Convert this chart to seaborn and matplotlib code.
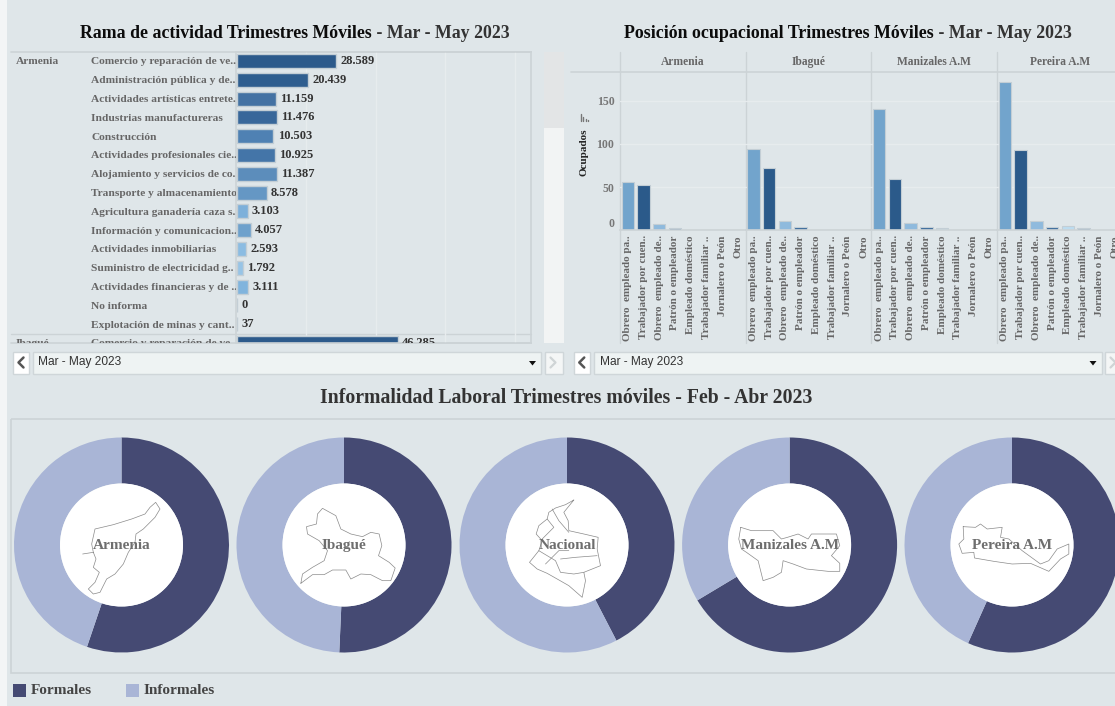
import matplotlib
matplotlib.use("Agg")
import matplotlib.pyplot as plt
import pandas as pd
import seaborn as sns
from matplotlib.patches import Circle, Polygon, Rectangle

ciudades_rama = ["Armenia"] * 15 + ["Ibagué"]
ramas = ["Comercio y reparación de ve..", "Administración pública y de..", "Actividades artísticas entrete..",
         "Industrias manufactureras", "Construcción", "Actividades profesionales cie..",
         "Alojamiento y servicios de co..", "Transporte y almacenamiento", "Agricultura ganadería caza s..",
         "Información y comunicacion..", "Actividades inmobiliarias", "Suministro de electricidad g..",
         "Actividades financieras y de ..", "No informa", "Explotación de minas y cant..",
         "Comercio y reparación de ve.."]
ocupados_rama = [28589, 20439, 11159, 11476, 10503, 10925, 11387, 8578, 3103, 4057, 2593, 1792, 3111, 0, 37, 46285]

ciudades_pos = ["Armenia", "Ibagué", "Manizales A.M", "Pereira A.M"]
posiciones = ["Obrero  empleado pa..", "Trabajador por cuen..", "Obrero  empleado de..", "Patrón o empleador",
              "Empleado doméstico", "Trabajador familiar ..", "Jornalero o Peón", "Otro"]
armenia_pos = [56, 53, 7, 3, 0, 0, 0, 0]
ibague_pos = [94, 72, 11, 3.5, 0.5, 0.3, 0, 0]
manizales_pos = [140, 59, 9, 4, 3, 0.5, 0, 0]
pereira_pos = [172, 93, 11, 4, 5, 3, 0, 0]

ciudades_inf = ["Armenia", "Ibagué", "Nacional", "Manizales A.M", "Pereira A.M"]
formales = [55.2, 50.7, 42.4, 66.4, 56.7]
informales = [44.8, 49.3, 57.6, 33.6, 43.3]

# colores
fondo = "#dfe6e9"
linea = "#ccd3d6"
rejilla = "#e7ecee"
colores_rama = ["#2c5a8b", "#2f5e8f", "#4472a3", "#38679a", "#4f81b3", "#4475a8", "#5c8dbb", "#6597c4",
                "#7db0da", "#6ea1cc", "#8bbce2", "#97c4e6", "#80b4dd", "#9cc8e8", "#9cc8e8", "#2c5a8b"]
colores_pos = ["#72a4cc", "#2b5a8a", "#8fbadd", "#3c6c9c", "#bcdcf0", "#4d7da8", "#8fbadd", "#8fbadd"]
color_formal = "#454a73"
color_informal = "#a9b5d6"

# siluetas decorativas (pixeles de la ampliacion, centro en 186,186)
silueta_armenia = [(68, 210), (100, 205), (95, 180), (105, 135), (160, 122), (215, 105), (255, 90), (270, 70),
                   (287, 55), (300, 75), (285, 100), (250, 135), (228, 150), (225, 175), (205, 205), (190, 240),
                   (165, 270), (140, 285), (120, 325), (100, 330), (85, 315), (105, 295), (118, 265), (100, 250),
                   (108, 225), (100, 205)]
silueta_ibague = [(55, 298), (60, 270), (90, 250), (125, 230), (135, 200), (110, 170), (75, 150), (72, 128),
                  (102, 120), (105, 90), (120, 73), (160, 95), (175, 135), (205, 150), (240, 158), (265, 145),
                  (290, 150), (298, 185), (288, 215), (320, 235), (338, 252), (325, 290), (300, 290), (265, 272),
                  (235, 270), (205, 285), (190, 258), (150, 258), (125, 272), (90, 272), (55, 298)]
silueta_nacional = [(205, 48), (180, 62), (150, 72), (130, 85), (125, 105), (100, 125), (92, 150), (110, 170),
                    (100, 200), (72, 235), (95, 255), (125, 268), (155, 285), (190, 305), (230, 340), (240, 290),
                    (235, 265), (285, 245), (275, 195), (278, 160), (235, 150), (190, 140), (188, 110), (175, 85),
                    (205, 48)]
lineas_nacional = [[(125, 105), (145, 130), (110, 165)], [(140, 75), (160, 110), (190, 145)],
                   [(100, 200), (150, 230), (165, 265), (205, 270), (235, 265)],
                   [(165, 225), (210, 220), (275, 215)], [(120, 240), (160, 200), (190, 200)]]
silueta_manizales = [(38, 130), (32, 165), (40, 195), (55, 205), (90, 230), (105, 290), (135, 280), (160, 265),
                     (165, 230), (195, 240), (235, 255), (300, 262), (335, 262), (335, 238), (310, 215),
                     (335, 185), (325, 150), (250, 150), (240, 165), (210, 150), (178, 160), (160, 165),
                     (135, 140), (100, 140), (70, 140), (38, 130)]
silueta_pereira = [(38, 128), (40, 165), (25, 180), (35, 208), (70, 205), (72, 222), (130, 232), (185, 240),
                   (240, 238), (295, 262), (330, 225), (355, 210), (355, 180), (320, 195), (295, 230), (270, 240),
                   (215, 200), (175, 165), (150, 160), (155, 130), (110, 135), (90, 120), (75, 130), (38, 128)]
siluetas = [[silueta_armenia], [silueta_ibague], [silueta_nacional] + lineas_nacional,
            [silueta_manizales], [silueta_pereira]]

sns.set_theme(style="white")
plt.rcParams["font.family"] = ["Liberation Serif", "DejaVu Serif"]
plt.rcParams["font.weight"] = "bold"

W, H = 1115, 706
fig = plt.figure(figsize=(W / 100, H / 100), dpi=100, facecolor=fondo)


def ax_px(x0, y0, x1, y1, zorder=1):
    ax = fig.add_axes([x0 / W, 1 - y1 / H, (x1 - x0) / W, (y1 - y0) / H], zorder=zorder)
    ax.patch.set_alpha(0)
    return ax


def lienzo(zorder):
    ax = ax_px(0, 0, W, H, zorder)
    ax.set_xlim(0, W)
    ax.set_ylim(H, 0)
    ax.axis("off")
    return ax


fondo_ax = lienzo(0)
arriba = lienzo(10)

fondo_ax.add_patch(Rectangle((0, 0), 7, H, fc="#f3f5f6", ec="none"))

# titulos
t1 = arriba.text(80, 33, "Rama de actividad Trimestres Móviles", va="center", fontsize=12.8, color="#0c0c0c")
arriba.annotate(" - Mar - May 2023", xy=(1, 0.5), xycoords=t1, va="center", fontsize=12.8, color="#333333")
t2 = arriba.text(624, 33, "Posición ocupacional Trimestres Móviles", va="center", fontsize=12.85, color="#0c0c0c")
arriba.annotate(" - Mar - May 2023", xy=(1, 0.5), xycoords=t2, va="center", fontsize=12.85, color="#333333")
arriba.text(566.5, 398, "Informalidad Laboral Trimestres móviles - Feb - Abr 2023", ha="center", va="center",
            fontsize=14.2, color="#333333")

# panel izquierdo: barras horizontales
df_rama = pd.DataFrame({"ciudad": ciudades_rama, "rama": ramas, "ocupados": ocupados_rama})
df_rama["fila"] = df_rama["ciudad"] + "|" + df_rama["rama"]

ax_r = ax_px(236, 52, 531, 343, 2)
sns.barplot(data=df_rama, x="ocupados", y="fila", hue="fila", palette=colores_rama, saturation=1, orient="h",
            width=0.74, edgecolor="#c3ced5", linewidth=1, legend=False, ax=ax_r)
ax_r.set_xlim(-300, 84700)
ax_r.set_ylim(15.0, -0.48)
ax_r.set_xlabel("")
ax_r.set_ylabel("")
ax_r.set_yticks([])
ax_r.set_xticks([20000, 40000, 60000, 80000])
ax_r.set_xticklabels([])
ax_r.tick_params(length=0)
ax_r.grid(axis="x", color=rejilla, lw=1)
ax_r.set_axisbelow(True)
for s in ax_r.spines.values():
    s.set_color(linea)
    s.set_linewidth(1.2)
for cont, v in zip(ax_r.containers, ocupados_rama):
    ax_r.bar_label(cont, labels=[f"{v:,}".replace(",", ".")], padding=3, fontsize=9, color="#333333", clip_on=True)

ax_l = ax_px(11, 52, 236, 343, 2)
ax_l.set_xlim(11, 236)
ax_l.set_ylim(15.0, -0.48)
ax_l.axis("off")
for i, (c, r) in enumerate(zip(ciudades_rama, ramas)):
    ax_l.text(91, i + 0.05, r, va="center", fontsize=8.2, color="#666666", clip_on=True)
    if i == 0 or c != ciudades_rama[i - 1]:
        ax_l.text(16, i + 0.05, c, va="center", fontsize=8.2, color="#666666", clip_on=True)
fondo_ax.plot([11, 531], [52, 52], color=linea, lw=1.2)
fondo_ax.plot([11, 531], [343, 343], color=linea, lw=1.2)
fondo_ax.plot([11, 531], [333.5, 333.5], color=linea, lw=1)

# barra de desplazamiento
fondo_ax.add_patch(Rectangle((544, 52), 19.5, 291, fc="#f2f4f4", ec="none"))
fondo_ax.add_patch(Rectangle((544, 52), 19.5, 75.5, fc="#e3e5e6", ec="none"))

# panel derecho: facetas por ciudad
df_pos = pd.DataFrame({
    "ciudad": [c for c in ciudades_pos for _ in posiciones],
    "posicion": posiciones * 4,
    "ocupados": armenia_pos + ibague_pos + manizales_pos + pereira_pos,
})
ancho_faceta = 125.7
for k, ciudad in enumerate(ciudades_pos):
    x0 = 620 + k * ancho_faceta
    ax = ax_px(x0, 71.7, x0 + ancho_faceta, 230.3, 2)
    sub = df_pos[df_pos["ciudad"] == ciudad]
    sns.barplot(data=sub, x="posicion", y="ocupados", hue="posicion", order=posiciones, hue_order=posiciones,
                palette=colores_pos, saturation=1, width=0.79, edgecolor="#c3ced5", linewidth=0.8, legend=False, ax=ax)
    ax.set_xlim(-0.5, 7.5)
    ax.set_ylim(0, 183.6)
    ax.set_xlabel("")
    ax.set_ylabel("")
    ax.set_xticks([])
    ax.set_yticks([0, 50, 100, 150])
    ax.grid(axis="y", color=rejilla, lw=1)
    ax.set_axisbelow(True)
    ax.tick_params(length=0, pad=4, labelsize=8.5, labelcolor="#777777")
    for s in ["top", "right", "left"]:
        ax.spines[s].set_visible(False)
    ax.spines["bottom"].set_color(linea)
    ax.spines["bottom"].set_linewidth(1.2)
    if k == 0:
        etiquetas = ax.get_yticklabels()
        etiquetas[0].set_va("bottom")
    else:
        ax.set_yticklabels([])
    ax.set_title(ciudad, fontsize=8.3, color="#666666", pad=5, fontweight="bold")

    banda = ax_px(x0, 230.3, x0 + ancho_faceta, 343, 2)
    banda.set_xlim(-0.5, 7.5)
    banda.set_ylim(112.7, 0)
    banda.axis("off")
    for i, p in enumerate(posiciones):
        banda.text(i, 5, p, rotation=90, ha="center", va="top", fontsize=8, color="#666666", clip_on=True)
    fondo_ax.plot([x0, x0], [52, 343], color=linea, lw=1)

fondo_ax.plot([571, W], [71.7, 71.7], color=linea, lw=1.2)
arriba.text(584, 152, "Ocupados", rotation=90, ha="center", va="center", fontsize=8, color="#222222")
for xb, y_alto in zip([580.5, 583, 585.5, 588], [114, 117, 119, 120]):
    arriba.plot([xb, xb], [y_alto, 121], color="#777777", lw=1)

# selectores de periodo
for x_prev, x_caja, x_fin, x_sig in [(13, 32.5, 541, 545), (573.5, 593.5, 1101.5, 1105)]:
    for xa, xb, color in [(x_prev, x_caja - 3.5, "white"), (x_caja, x_fin, "#eef3f3"), (x_sig, x_sig + 18, "#f4f6f6")]:
        arriba.add_patch(Rectangle((xa, 352), xb - xa, 21.5, fc=color, ec="#cfd6d9", lw=1))
    xc = (x_prev + x_caja - 3.5) / 2
    arriba.plot([xc + 2.5, xc - 2.5, xc + 2.5], [357.5, 362.5, 367.5], color="#555555", lw=1.8)
    xs = x_sig + 8
    arriba.plot([xs - 2.5, xs + 2.5, xs - 2.5], [357.5, 362.5, 367.5], color="#cfd4d6", lw=1.6)
    arriba.text(x_caja + 6, 361.5, "Mar - May 2023", va="center", fontsize=8.6, color="#333333",
                family="Liberation Sans", fontweight="normal")
    arriba.add_patch(Polygon([(x_fin - 12, 361), (x_fin - 5, 361), (x_fin - 8.5, 365.5)], fc="#111111", ec="none"))

# donas de informalidad
fondo_ax.add_patch(Rectangle((11, 418.5), W, 254, fc="none", ec=linea, lw=1.2))
centros_x = [121.5, 344, 567, 789.6, 1012]
for cx, ciudad, f, i, sil in zip(centros_x, ciudades_inf, formales, informales, siluetas):
    ax = ax_px(cx - 107.5, 545 - 107.5, cx + 107.5, 545 + 107.5, 2)
    ax.pie([f, i], colors=[color_formal, color_informal], startangle=90, counterclock=False, radius=1,
           wedgeprops={"width": 46 / 107.5, "linewidth": 0})
    ax.add_patch(Circle((0, 0), 61.5 / 107.5, fc="white", ec="none"))
    ax.set_xlim(-1, 1)
    ax.set_ylim(-1, 1)
    for trazo in sil:
        arriba.plot([cx + (px - 186) / 3 + 0.5 for px, _ in trazo], [546 + (py - 186) / 3 for _, py in trazo],
                    color="#8a8a8a", lw=0.5)
    arriba.text(cx, 545.5, ciudad, ha="center", va="center", fontsize=11, color="#6e6e6e")

# leyenda
for x_cuadro, x_texto, nombre, color in [(13, 31, "Formales", color_formal), (126, 144, "Informales", color_informal)]:
    arriba.add_patch(Rectangle((x_cuadro, 684), 13, 13, fc=color, ec="none"))
    arriba.text(x_texto, 690.5, nombre, va="center", fontsize=11, color="#444444")

plt.savefig("out.png", dpi=100, facecolor=fondo)
